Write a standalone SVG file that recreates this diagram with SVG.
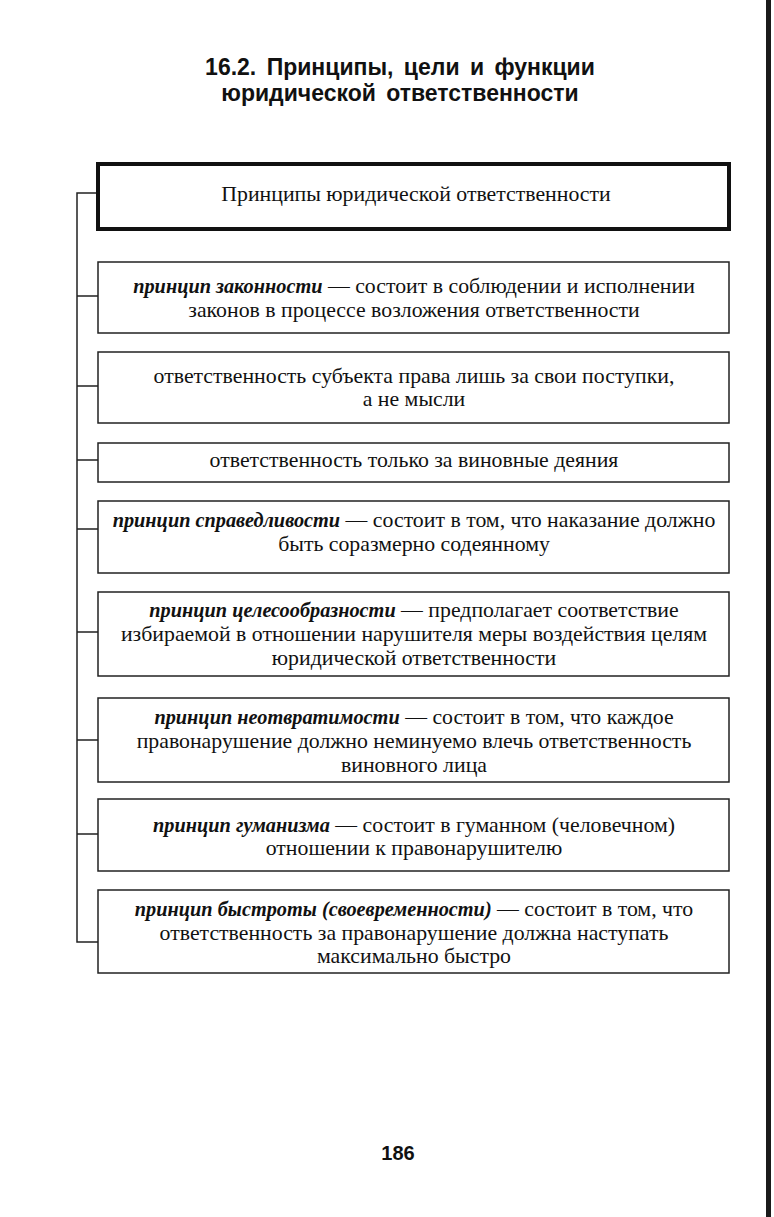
<svg xmlns="http://www.w3.org/2000/svg" width="774" height="1217" viewBox="0 0 774 1217">
<style>
.title{font-family:"Liberation Sans",Arial,sans-serif;font-weight:bold;font-size:23px;fill:#111;text-anchor:middle;word-spacing:4px}
.t{font-family:"Liberation Serif","Times New Roman",serif;font-size:21.8px;fill:#111;text-anchor:middle}
.b{font-weight:bold;font-style:italic;font-size:20.3px}
.box{fill:#fff;stroke:#222;stroke-width:1.5}
.head{fill:#fff;stroke:#111;stroke-width:4}
.conn{fill:none;stroke:#222;stroke-width:1.5}
.pn{font-family:"Liberation Sans",Arial,sans-serif;font-size:20px;font-weight:bold;fill:#111;text-anchor:middle}
</style>
<rect width="774" height="1217" fill="#fff"/>
<rect x="766" y="0" width="5" height="1217" fill="#1a1a1a"/>
<text class="title" x="400" y="75">16.2. Принципы, цели и функции</text>
<text class="title" x="400" y="101">юридической ответственности</text>
<g id="connectors">
<path class="conn" d="M96 193 H77 V942 H98"/>
<path class="conn" d="M77 296 H98 M77 386 H98 M77 460 H98 M77 529 H98 M77 632 H98 M77 740 H98 M77 834 H98"/>
</g>
<g id="header">
<rect class="head" x="98" y="164" width="631" height="65"/>
<text class="t" x="416" y="201">Принципы юридической ответственности</text>
</g>
<g id="n1">
<rect class="box" x="98" y="262" width="631" height="71"/>
<text class="t" x="414" y="293"><tspan class="b">принцип законности</tspan> — состоит в соблюдении и исполнении</text>
<text class="t" x="414" y="317">законов в процессе возложения ответственности</text>
</g>
<g id="n2">
<rect class="box" x="98" y="352" width="631" height="71"/>
<text class="t" x="414" y="383">ответственность субъекта права лишь за свои поступки,</text>
<text class="t" x="414" y="406">а не мысли</text>
</g>
<g id="n3">
<rect class="box" x="98" y="443" width="631" height="39"/>
<text class="t" x="414" y="467">ответственность только за виновные деяния</text>
</g>
<g id="n4">
<rect class="box" x="98" y="501" width="631" height="72"/>
<text class="t" x="414" y="527"><tspan class="b">принцип справедливости</tspan> — состоит в том, что наказание должно</text>
<text class="t" x="414" y="551">быть соразмерно содеянному</text>
</g>
<g id="n5">
<rect class="box" x="98" y="592" width="631" height="84"/>
<text class="t" x="414" y="617"><tspan class="b">принцип целесообразности</tspan> — предполагает соответствие</text>
<text class="t" x="414" y="641">избираемой в отношении нарушителя меры воздействия целям</text>
<text class="t" x="414" y="665">юридической ответственности</text>
</g>
<g id="n6">
<rect class="box" x="98" y="698" width="631" height="84"/>
<text class="t" x="414" y="724"><tspan class="b">принцип неотвратимости</tspan> — состоит в том, что каждое</text>
<text class="t" x="414" y="748">правонарушение должно неминуемо влечь ответственность</text>
<text class="t" x="414" y="772">виновного лица</text>
</g>
<g id="n7">
<rect class="box" x="98" y="799" width="631" height="72"/>
<text class="t" x="414" y="832"><tspan class="b">принцип гуманизма</tspan> — состоит в гуманном (человечном)</text>
<text class="t" x="414" y="855">отношении к правонарушителю</text>
</g>
<g id="n8">
<rect class="box" x="98" y="890" width="631" height="83"/>
<text class="t" x="414" y="916"><tspan class="b">принцип быстроты (своевременности)</tspan> — состоит в том, что</text>
<text class="t" x="414" y="940">ответственность за правонарушение должна наступать</text>
<text class="t" x="414" y="963">максимально быстро</text>
</g>
<text class="pn" x="398" y="1160">186</text>
</svg>
